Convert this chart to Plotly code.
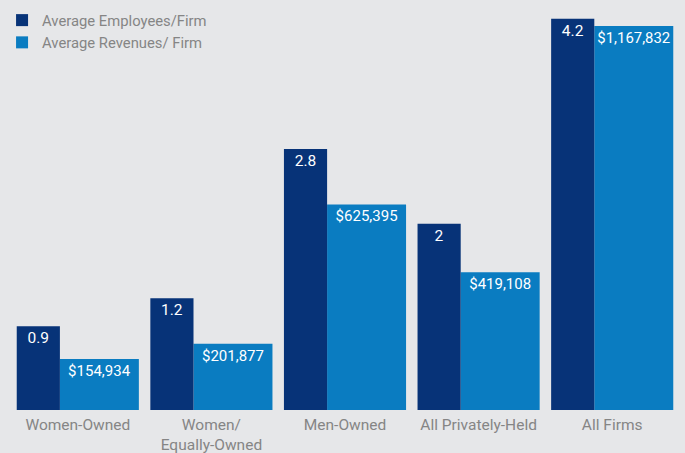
import plotly.graph_objects as go

categories = ["Women-Owned", "Women/<br>Equally-Owned", "Men-Owned", "All Privately-Held", "All Firms"]
employees = [0.9, 1.2, 2.8, 2, 4.2]
revenues = [154934, 201877, 625395, 419108, 1167832]

NAVY = "#073378"
BLUE = "#0a7cc1"
BG = "#e6e7e9"
GRAY = "#858585"
FONT = "Roboto, Arial, sans-serif"

fig = go.Figure()
fig.add_trace(go.Bar(
    x=categories, y=employees, name="Average Employees/Firm",
    marker=dict(color=NAVY, line=dict(width=0)),
    width=0.323, offset=-0.457, yaxis="y2",
    texttemplate="%{y}", textposition="inside", insidetextanchor="end",
    textangle=0, insidetextfont=dict(color="white", size=15.5, family=FONT),
    hoverinfo="skip",
))
fig.add_trace(go.Bar(
    x=categories, y=revenues, name="Average Revenues/ Firm",
    marker=dict(color=BLUE, line=dict(width=0)),
    width=0.591, offset=-0.134, yaxis="y",
    texttemplate="$%{y:,}", textposition="inside", insidetextanchor="end",
    textangle=0, insidetextfont=dict(color="white", size=15, family=FONT),
    hoverinfo="skip",
))

fig.update_layout(
    width=685, height=453,
    margin=dict(l=0, r=0, t=0, b=43),
    paper_bgcolor=BG, plot_bgcolor=BG,
    barmode="overlay",
    font=dict(family=FONT, color=GRAY, size=15),
    xaxis=dict(showgrid=False, showline=False, zeroline=False, ticks="",
               domain=[11 / 685, 679 / 685], automargin=False,
               range=[-0.5, 4.5], tickangle=0, ticklabelstandoff=3,
               tickfont=dict(size=15.5, color=GRAY), fixedrange=True),
    yaxis=dict(range=[0, 1247000], visible=False, fixedrange=True),
    yaxis2=dict(range=[0, 4.4], visible=False, overlaying="y", fixedrange=True),
    legend=dict(x=0.003, y=1 - 4 / 410, xanchor="left", yanchor="top",
                font=dict(size=14.8, color=GRAY), bgcolor="rgba(0,0,0,0)",
                traceorder="normal", itemclick=False, itemdoubleclick=False),
    showlegend=True,
)

fig.write_html("out.html", config={"displayModeBar": False},
               post_script="document.body.style.margin='0px';")
